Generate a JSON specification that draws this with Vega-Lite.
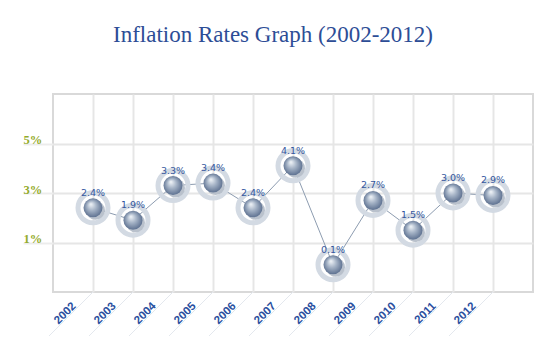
{
  "$schema": "https://vega.github.io/schema/vega-lite/v6.json",
  "width": 480,
  "height": 198,
  "autosize": {"type": "none"},
  "padding": {"left": 53, "top": 94, "right": 20, "bottom": 63},
  "background": "white",
  "title": {
    "text": "Inflation Rates Graph (2002-2012)",
    "font": "Liberation Serif",
    "fontSize": 23,
    "fontWeight": "normal",
    "color": "#2d4d96",
    "anchor": "middle",
    "dx": -20,
    "offset": 47
  },
  "config": {
    "view": {"stroke": "#d9d9d9", "strokeWidth": 2}
  },
  "data": {
    "values": [
      {"year": 2002, "rate": 2.4},
      {"year": 2003, "rate": 1.9},
      {"year": 2004, "rate": 3.3},
      {"year": 2005, "rate": 3.4},
      {"year": 2006, "rate": 2.4},
      {"year": 2007, "rate": 4.1},
      {"year": 2008, "rate": 0.1},
      {"year": 2009, "rate": 2.7},
      {"year": 2010, "rate": 1.5},
      {"year": 2011, "rate": 3.0},
      {"year": 2012, "rate": 2.9}
    ]
  },
  "encoding": {
    "x": {
      "field": "year",
      "type": "quantitative",
      "scale": {"domain": [2001, 2013], "nice": false, "zero": false},
      "axis": {
        "title": null,
        "values": [2002, 2003, 2004, 2005, 2006, 2007, 2008, 2009, 2010, 2011, 2012],
        "format": "d",
        "grid": true,
        "gridColor": "#e6e6e6",
        "gridWidth": 2,
        "domain": false,
        "ticks": false,
        "labelAngle": -45,
        "labelAlign": "right",
        "labelBaseline": "middle",
        "labelPadding": 12,
        "labelOffset": -19,
        "labelFont": "Liberation Sans",
        "labelFontSize": 11.5,
        "labelFontWeight": "bold",
        "labelColor": "#2a4f9f"
      }
    },
    "y": {
      "field": "rate",
      "type": "quantitative",
      "scale": {"domain": [-1, 7], "nice": false, "zero": false},
      "axis": {
        "title": null,
        "values": [1, 3, 5],
        "labelExpr": "datum.value + '%'",
        "grid": true,
        "gridColor": "#e6e6e6",
        "gridWidth": 2,
        "domain": false,
        "ticks": true,
        "tickSize": 30,
        "tickColor": "#ececec",
        "tickWidth": 2,
        "labelAlign": "left",
        "labelBaseline": "alphabetic",
        "labelPadding": 0,
        "labelDy": -2,
        "labelFont": "Liberation Serif",
        "labelFontSize": 12.5,
        "labelFontWeight": "bold",
        "labelColor": "#94ab2c"
      }
    }
  },
  "layer": [
    {
      "mark": {"type": "rule", "color": "#e4e8ee", "strokeWidth": 1, "x2Offset": -44, "y2Offset": 44, "clip": false},
      "encoding": {
        "y": {"datum": -1},
        "y2": {"datum": -1},
        "x2": {"field": "year"}
      }
    },
    {
      "mark": {"type": "line", "color": "#8d9cb0", "strokeWidth": 1}
    },
    {
      "mark": {"type": "point", "filled": false, "size": 900, "stroke": "#d3dae3", "strokeWidth": 5, "opacity": 1, "fill": "white", "fillOpacity": 0}
    },
    {
      "mark": {"type": "point", "filled": true, "size": 361, "color": "#b9c1cc", "opacity": 1, "xOffset": 2.5, "yOffset": 2.5}
    },
    {
      "mark": {
        "type": "point",
        "filled": true,
        "size": 361,
        "opacity": 1,
        "color": {
          "gradient": "radial",
          "x1": 0.38, "y1": 0.3, "r1": 0,
          "x2": 0.5, "y2": 0.5, "r2": 0.55,
          "stops": [
            {"offset": 0, "color": "#f5f8fb"},
            {"offset": 0.45, "color": "#a6b4c7"},
            {"offset": 1, "color": "#55698a"}
          ]
        }
      }
    },
    {
      "transform": [{"calculate": "format(datum.rate, '.1f') + '%'", "as": "label"}],
      "mark": {"type": "text", "font": "DejaVu Sans", "fontSize": 9.5, "color": "#35579e", "baseline": "alphabetic", "dy": -12},
      "encoding": {
        "text": {"field": "label", "type": "nominal"}
      }
    }
  ]
}
